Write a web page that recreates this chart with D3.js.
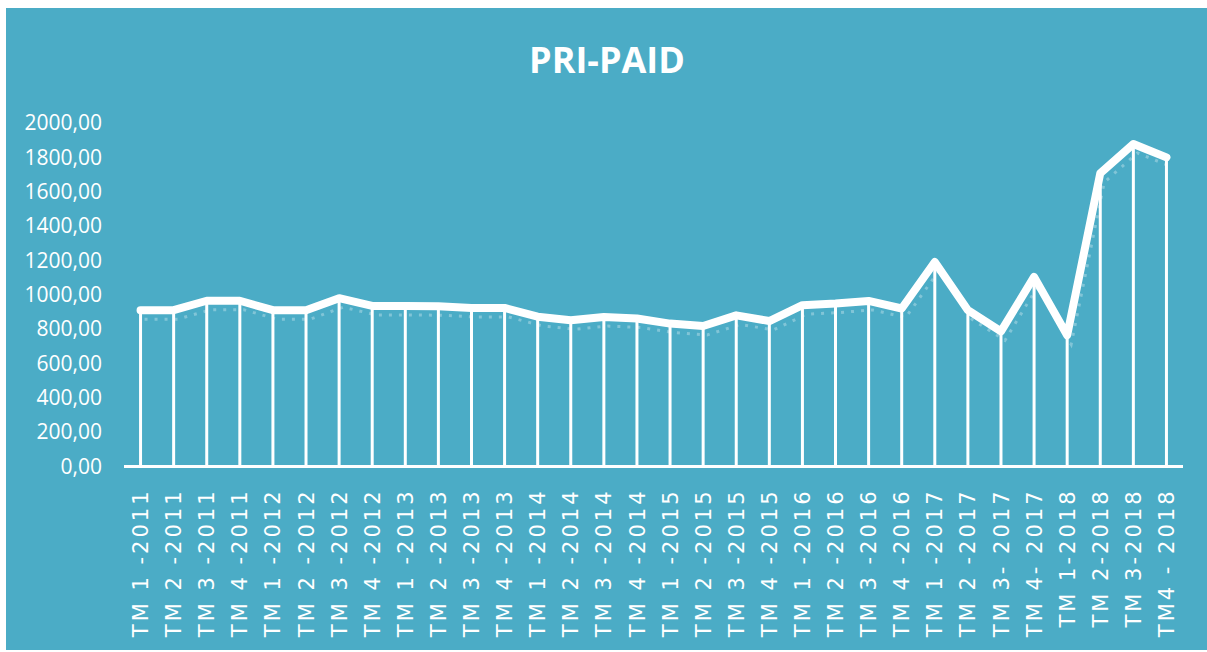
<!DOCTYPE html>
<html>
<head>
<meta charset="utf-8">
<script src="https://cdn.jsdelivr.net/npm/d3@7"></script>
<style>
  body { margin: 0; background: #fff; }
  svg { display: block; }
</style>
</head>
<body>
<svg id="chart" width="1207" height="652"></svg>
<script>
// Quarters shown on the x axis
var quarters = [
  "TM 1 -2011", "TM 2 -2011", "TM 3 -2011", "TM 4 -2011",
  "TM 1 -2012", "TM 2 -2012", "TM 3 -2012", "TM 4 -2012",
  "TM 1 -2013", "TM 2 -2013", "TM 3 -2013", "TM 4 -2013",
  "TM 1 -2014", "TM 2 -2014", "TM 3 -2014", "TM 4 -2014",
  "TM 1 -2015", "TM 2 -2015", "TM 3 -2015", "TM 4 -2015",
  "TM 1 -2016", "TM 2 -2016", "TM 3 -2016", "TM 4 -2016",
  "TM 1 -2017", "TM 2 -2017", "TM 3- 2017", "TM 4- 2017",
  "TM 1-2018", "TM 2-2018", "TM 3-2018", "TM4 - 2018"
];

// PRI-PAID values per quarter
var priPaid = [
  910, 910, 965, 965,
  910, 910, 980, 935,
  935, 933, 923, 923,
  872, 851, 870, 862,
  832, 818, 880, 847,
  939, 949, 964, 920,
  1191, 910, 787, 1104,
  764, 1707, 1878, 1800
];

var yTicks = [0, 200, 400, 600, 800, 1000, 1200, 1400, 1600, 1800, 2000];

var svg = d3.select("#chart"),
  width = +svg.attr("width"),
  height = +svg.attr("height");

// background panel
svg.append("rect")
  .attr("x", 6).attr("y", 8)
  .attr("width", width - 6).attr("height", 642)
  .attr("fill", "#4BACC6");

svg.append("text")
  .attr("x", 607).attr("y", 73)
  .attr("text-anchor", "middle")
  .attr("fill", "#fff")
  .style("font-family", "'Open Sans', sans-serif")
  .style("font-weight", "bold")
  .style("font-size", "36px")
  .text("PRI-PAID");

// scales
var x = d3.scaleBand().domain(quarters).range([124, 1183]);
var y = d3.scaleLinear().domain([0, 2000]).range([466.5, 123]);
var cx = function (d, i) { return x(quarters[i]) + x.bandwidth() / 2; };

// y axis labels only
var yAxis = svg.append("g")
  .attr("transform", "translate(102,0)")
  .call(d3.axisLeft(y).tickValues(yTicks).tickSize(0).tickPadding(0)
    .tickFormat(function (d) { return d3.format(".2f")(d).replace(".", ","); }));
yAxis.select(".domain").remove();
yAxis.selectAll("text")
  .attr("fill", "#fff")
  .style("font-family", "'Open Sans', sans-serif")
  .style("font-size", "21px");

// x axis labels, rotated
var xAxis = svg.append("g")
  .attr("transform", "translate(0," + y(0) + ")")
  .call(d3.axisBottom(x).tickSize(0).tickPadding(0));
xAxis.select(".domain").remove();
xAxis.selectAll("text")
  .attr("fill", "#fff")
  .attr("text-anchor", "end")
  .attr("transform", "rotate(-90)")
  .attr("x", -22).attr("y", 0).attr("dy", "0.36em")
  .style("font-family", "'DejaVu Sans', sans-serif")
  .style("font-size", "21px")
  .style("letter-spacing", "3px")
  .style("white-space", "pre");

// drop lines
svg.append("g")
  .selectAll("line")
  .data(priPaid)
  .join("line")
  .attr("x1", cx).attr("x2", cx)
  .attr("y1", function (d) { return y(d); })
  .attr("y2", y(0))
  .attr("stroke", "#fff")
  .attr("stroke-width", 3);

// baseline
svg.append("line")
  .attr("x1", x.range()[0]).attr("x2", x.range()[1])
  .attr("y1", y(0)).attr("y2", y(0))
  .attr("stroke", "#fff")
  .attr("stroke-width", 3);

var line = d3.line()
  .x(cx)
  .y(function (d) { return y(d); });

// faint dotted shadow under the main line
svg.append("path")
  .datum(priPaid)
  .attr("transform", "translate(4,9)")
  .attr("d", line)
  .attr("fill", "none")
  .attr("stroke", "#fff")
  .attr("stroke-opacity", 0.3)
  .attr("stroke-width", 3)
  .attr("stroke-dasharray", "3,7");

svg.append("path")
  .datum(priPaid)
  .attr("d", line)
  .attr("fill", "none")
  .attr("stroke", "#fff")
  .attr("stroke-width", 8)
  .attr("stroke-linecap", "round")
  .attr("stroke-linejoin", "round");
</script>
</body>
</html>
